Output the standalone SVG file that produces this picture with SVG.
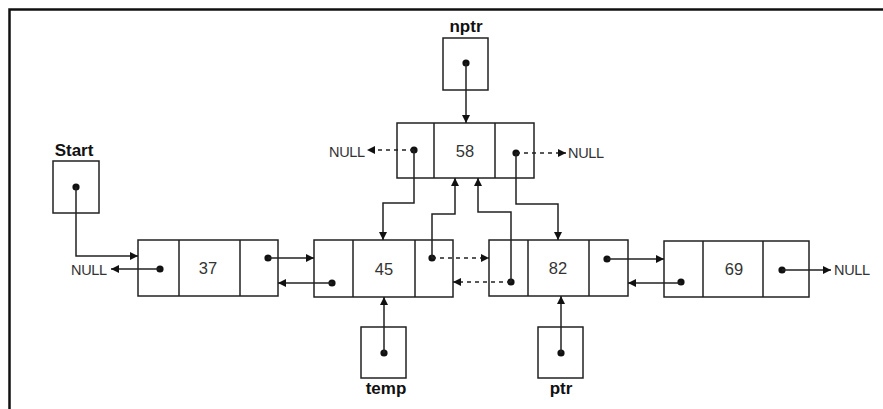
<svg xmlns="http://www.w3.org/2000/svg" width="883" height="409" viewBox="0 0 883 409">
<style>
.box{fill:none;stroke:#222;stroke-width:1.5}
.ln{fill:none;stroke:#222;stroke-width:1.5}
.ar{marker-end:url(#ah)}
.ds{stroke-dasharray:4 4}
.dot{fill:#111}
.val{font-family:"Liberation Sans",Arial,sans-serif;font-size:16.5px;fill:#333;text-anchor:middle;dominant-baseline:central}
.nul{font-family:"Liberation Sans",Arial,sans-serif;font-size:14.5px;fill:#333;dominant-baseline:central;letter-spacing:-0.3px}
.lbl{font-family:"Liberation Sans",Arial,sans-serif;font-size:17px;font-weight:bold;fill:#111;text-anchor:middle}
</style>
<defs>
<marker id="ah" markerUnits="userSpaceOnUse" markerWidth="9" markerHeight="9" refX="8" refY="4" orient="auto">
<path d="M0,0 L8,4 L0,8 z" fill="#111"/>
</marker>
</defs>
<rect width="883" height="409" fill="#fff"/>
<path d="M9.5,409 V9.5 H883" fill="none" stroke="#111" stroke-width="2.5"/>

<g id="start">
<text class="lbl" x="74" y="156">Start</text>
<rect class="box" x="53" y="161" width="46" height="52"/>
<circle class="dot" cx="76" cy="187" r="3.6"/>
</g>
<g id="nptr">
<text class="lbl" x="466" y="32">nptr</text>
<rect class="box" x="443" y="38" width="45" height="52"/>
<circle class="dot" cx="466" cy="63" r="3.6"/>
</g>
<g id="temp">
<rect class="box" x="361" y="327" width="45" height="51"/>
<circle class="dot" cx="384" cy="353" r="3.6"/>
<text class="lbl" x="386" y="394">temp</text>
</g>
<g id="ptr">
<rect class="box" x="538" y="327" width="45" height="51"/>
<circle class="dot" cx="561" cy="353" r="3.6"/>
<text class="lbl" x="561" y="394">ptr</text>
</g>

<g id="node37">
<rect class="box" x="138" y="240" width="140" height="56"/>
<path class="ln" d="M179,240 V296 M240,240 V296"/>
<text class="val" x="208" y="268">37</text>
<circle class="dot" cx="160" cy="269" r="3.6"/>
<circle class="dot" cx="268" cy="258" r="3.6"/>
</g>
<g id="node45">
<rect class="box" x="314" y="240" width="139" height="57"/>
<path class="ln" d="M353,240 V297 M415,240 V297"/>
<text class="val" x="384" y="269">45</text>
<circle class="dot" cx="332" cy="283" r="3.6"/>
<circle class="dot" cx="432" cy="258" r="3.6"/>
</g>
<g id="node82">
<rect class="box" x="489" y="240" width="139" height="56"/>
<path class="ln" d="M528,240 V296 M589,240 V296"/>
<text class="val" x="558" y="268">82</text>
<circle class="dot" cx="511" cy="282" r="3.6"/>
<circle class="dot" cx="607" cy="259" r="3.6"/>
</g>
<g id="node69">
<rect class="box" x="664" y="241" width="145" height="56"/>
<path class="ln" d="M703,241 V297 M763,241 V297"/>
<text class="val" x="734" y="269">69</text>
<circle class="dot" cx="681" cy="282" r="3.6"/>
<circle class="dot" cx="782" cy="270" r="3.6"/>
</g>
<g id="node58">
<rect class="box" x="397" y="123" width="137" height="55"/>
<path class="ln" d="M434,123 V178 M495,123 V178"/>
<text class="val" x="465" y="151">58</text>
<circle class="dot" cx="414" cy="150" r="3.6"/>
<circle class="dot" cx="516" cy="153" r="3.6"/>
</g>

<g id="nulls">
<text class="nul" x="71" y="270">NULL</text>
<text class="nul" x="834" y="270">NULL</text>
<text class="nul" x="329" y="152">NULL</text>
<text class="nul" x="568" y="153">NULL</text>
</g>

<g id="connectors">
<path class="ln ar" d="M76,187 V256 H138"/>
<path class="ln ar" d="M160,269 H111"/>
<path class="ln ar" d="M268,258 H314"/>
<path class="ln ar" d="M332,283 H278"/>
<path class="ln ar ds" d="M432,258 H489"/>
<path class="ln ar ds" d="M511,282 H453"/>
<path class="ln ar" d="M607,259 H664"/>
<path class="ln ar" d="M681,283 H628"/>
<path class="ln ar" d="M782,270 H831"/>
<path class="ln ar" d="M466,63 V123"/>
<path class="ln ar ds" d="M414,150 H367"/>
<path class="ln ar ds" d="M516,153 H566"/>
<path class="ln ar" d="M414,150 V203 H383 V240"/>
<path class="ln ar" d="M516,153 V204 H558 V240"/>
<path class="ln ar" d="M432,258 V214 H455 V178"/>
<path class="ln ar" d="M511,282 V212 H478 V178"/>
<path class="ln ar" d="M384,353 V297"/>
<path class="ln ar" d="M561,353 V296"/>
</g>
</svg>
